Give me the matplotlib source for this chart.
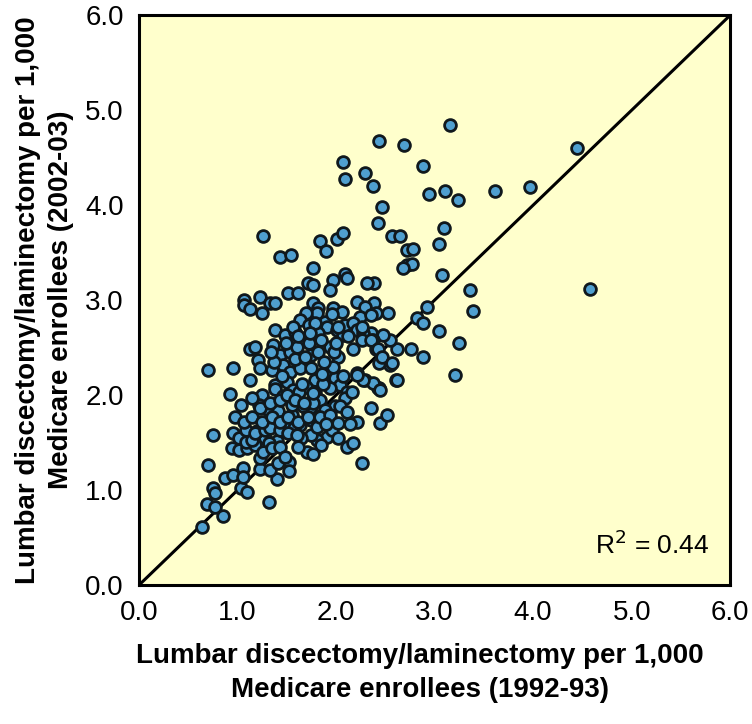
import numpy as np
import matplotlib.pyplot as plt

plt.rcParams['font.family'] = ['Liberation Sans', 'DejaVu Sans']

# rates per 1,000 enrollees, 1992-93 (x) vs 2002-03 (y)
upper_x = [3.16, 2.43, 2.69, 2.88, 4.45, 2.37, 2.94, 3.10, 3.24, 3.61, 3.97, 2.47,
           2.42, 2.57, 2.65, 3.09, 3.04, 2.72, 2.78, 2.72, 2.77, 2.68, 3.07, 2.38,
           3.36, 4.58, 3.39, 2.92, 2.82, 2.88, 3.04, 3.25, 3.21, 2.88, 2.76, 2.62,
           2.55, 2.48, 2.38, 2.40, 2.53, 2.35, 2.40, 2.55, 2.43, 2.61, 2.43,
           2.07, 2.09, 2.29]
upper_y = [4.84, 4.68, 4.63, 4.41, 4.60, 4.20, 4.12, 4.15, 4.05, 4.15, 4.19, 3.98,
           3.81, 3.67, 3.68, 3.76, 3.59, 3.53, 3.54, 3.37, 3.38, 3.34, 3.26, 3.18,
           3.11, 3.12, 2.88, 2.93, 2.81, 2.76, 2.67, 2.55, 2.21, 2.40, 2.48, 2.49,
           2.58, 2.63, 2.97, 2.86, 2.86, 2.65, 2.49, 2.32, 2.34, 2.16, 2.07,
           4.45, 4.27, 4.34]

mid_x = [1.26, 1.84, 1.90, 2.01, 2.07, 1.43, 1.54, 1.77, 1.71, 1.76, 1.97, 2.09,
         2.11, 1.94, 2.31, 1.51, 1.61, 1.23, 1.06, 1.06, 1.13, 1.33, 1.38, 1.25,
         1.77, 1.82, 1.81, 1.69, 1.97, 2.06, 2.21, 2.29, 2.24, 2.35, 1.38, 1.48,
         1.58, 1.63, 1.72, 1.89, 1.91, 1.82, 2.01, 2.07, 2.09, 2.17, 2.21, 2.27,
         1.13, 1.21, 1.56, 1.79, 2.02, 2.26, 2.37]
mid_y = [3.68, 3.62, 3.52, 3.64, 3.71, 3.45, 3.48, 3.34, 3.18, 3.16, 3.21, 3.28,
         3.23, 3.11, 3.18, 3.07, 3.07, 3.03, 3.00, 2.95, 2.91, 2.97, 2.97, 2.86,
         2.97, 2.92, 2.86, 2.86, 2.92, 2.87, 2.98, 2.93, 2.82, 2.84, 2.68, 2.63,
         2.66, 2.79, 2.74, 2.77, 2.72, 2.65, 2.68, 2.63, 2.74, 2.76, 2.68, 2.65,
         2.49, 2.37, 2.72, 2.76, 2.72, 2.72, 2.58]

core_x = [1.18, 1.36, 1.43, 1.53, 1.60, 1.72, 1.74, 1.82, 1.94, 2.02, 2.17, 2.26,
          2.35, 2.42, 2.47, 2.57, 1.35, 1.46, 1.53, 1.63, 1.74, 1.79, 1.91, 1.99,
          2.04, 2.21, 2.29, 2.42, 2.62, 1.13, 1.23, 1.38, 1.50, 1.56, 1.69, 1.79,
          1.94, 2.11, 1.38, 1.46, 1.62, 1.84, 1.99, 2.09, 1.89, 1.74, 1.63, 1.55,
          1.71, 1.74, 1.91, 1.96, 1.81, 1.74, 1.81, 1.84, 1.94, 2.02, 2.16, 2.04,
          2.11, 2.37, 2.45, 2.27, 2.21, 2.21, 2.45, 2.52, 2.35, 2.11, 2.17, 2.26,
          1.52, 1.70, 1.85]
core_y = [2.51, 2.53, 2.42, 2.45, 2.51, 2.55, 2.42, 2.45, 2.51, 2.40, 2.49, 2.58,
          2.58, 2.49, 2.40, 2.34, 2.26, 2.32, 2.24, 2.28, 2.29, 2.16, 2.24, 2.18,
          2.11, 2.23, 2.16, 2.07, 2.16, 2.16, 2.28, 2.11, 2.14, 2.05, 2.08, 2.02,
          2.07, 2.03, 2.06, 1.99, 2.03, 1.95, 1.89, 1.97, 1.84, 1.74, 1.68, 1.79,
          1.81, 1.87, 1.56, 1.63, 1.53, 1.58, 1.66, 1.77, 1.79, 1.71, 2.03, 1.89,
          1.82, 2.13, 2.05, 2.16, 2.21, 1.72, 1.71, 1.79, 1.86, 1.45, 1.49, 1.28,
          1.30, 1.40, 1.47]

dense_x = [1.28, 1.40, 1.47, 1.57, 1.66, 1.77, 1.87, 1.97, 2.07, 1.30, 1.41, 1.55,
           1.65, 1.76, 1.86, 1.98, 1.20, 1.32, 1.45, 1.58, 1.68, 1.88, 2.00, 2.12,
           1.25, 1.37, 1.49, 1.61, 1.73, 1.85, 1.96, 1.40, 1.52, 1.64, 1.76, 1.90,
           2.02, 2.14, 1.22, 1.34]
dense_y = [1.55, 1.52, 1.70, 1.65, 1.88, 1.92, 2.12, 2.30, 2.20, 1.85, 1.83, 1.90,
           2.12, 2.02, 2.22, 2.45, 1.62, 1.50, 2.20, 2.38, 2.40, 2.35, 2.55, 2.62,
           2.00, 2.35, 2.55, 2.62, 2.65, 2.58, 2.85, 1.12, 1.20, 1.55, 1.38, 1.70,
           1.55, 1.70, 1.90, 2.45]

low_x = [0.92, 0.75, 0.70, 1.32, 0.64, 0.69, 0.77, 0.75, 0.77, 0.85, 0.87, 0.95,
         1.03, 1.10, 1.05, 1.05, 1.23, 1.33, 1.41, 1.23, 0.94, 1.01, 1.10, 1.18,
         1.26, 1.35, 1.43, 1.48, 1.61, 0.95, 1.01, 1.08, 1.15, 1.08, 1.18, 1.28,
         1.33, 1.43, 1.51, 1.60, 0.97, 1.06, 1.15, 1.25, 1.35, 1.43, 1.51, 1.61,
         1.71, 1.03, 1.15, 1.23, 1.33, 1.43, 1.50, 1.58, 1.67, 0.70, 0.95]
low_y = [2.01, 1.58, 1.26, 0.87, 0.61, 0.85, 0.82, 1.02, 0.97, 0.73, 1.13, 1.16,
         1.02, 0.98, 1.23, 1.14, 1.22, 1.21, 1.28, 1.34, 1.44, 1.42, 1.44, 1.47,
         1.40, 1.44, 1.45, 1.35, 1.45, 1.60, 1.55, 1.51, 1.53, 1.63, 1.60, 1.63,
         1.65, 1.63, 1.60, 1.58, 1.77, 1.72, 1.77, 1.72, 1.77, 1.72, 1.77, 1.72,
         1.77, 1.90, 1.97, 1.86, 1.92, 1.95, 2.00, 1.95, 1.92, 2.26, 2.28]

x = np.array(upper_x + mid_x + core_x + dense_x + low_x)
y = np.array(upper_y + mid_y + core_y + dense_y + low_y)

ticks = [0, 1, 2, 3, 4, 5, 6]
tick_labels = ["0.0", "1.0", "2.0", "3.0", "4.0", "5.0", "6.0"]

fig = plt.figure(figsize=(7.52, 7.24), dpi=100)
ax = fig.add_axes([0.185, 0.192, 0.786, 0.787])
ax.set_facecolor("#ffffcc")

ax.plot([0, 6], [0, 6], color="black", lw=2.2, zorder=2)
ax.scatter(x, y, s=72, color="#4f9fcf", edgecolor="#10181c", linewidth=2.0, zorder=3)

ax.set_xlim(0, 6)
ax.set_ylim(0, 6)
ax.set_xticks(ticks)
ax.set_xticklabels(tick_labels)
ax.set_yticks(ticks)
ax.set_yticklabels(tick_labels)
ax.tick_params(length=0, labelsize=20, pad=11)
for s in ax.spines.values():
    s.set_linewidth(2.2)

ax.text(0.965, 0.07, "R$^2$ = 0.44", transform=ax.transAxes, ha="right",
        va="center", fontsize=19)

ax.set_xlabel("Lumbar discectomy/laminectomy per 1,000\nMedicare enrollees (1992-93)",
              fontsize=20, fontweight="bold", labelpad=12, linespacing=1.4)
ax.xaxis.label.set_x(0.475)
ax.set_ylabel("Lumbar discectomy/laminectomy per 1,000\nMedicare enrollees (2002-03)",
              fontsize=20, fontweight="bold", labelpad=8, linespacing=1.35)

fig.savefig("out.png", dpi=100)
